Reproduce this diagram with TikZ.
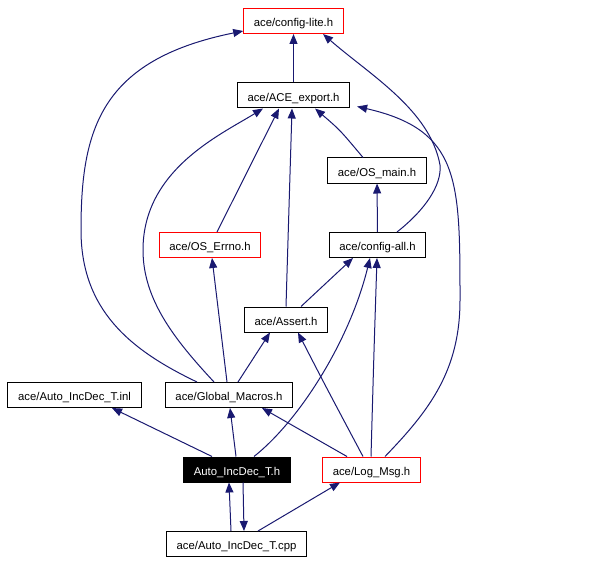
\documentclass[tikz,border=0pt]{standalone}
\usepackage{fontspec}
\setmainfont{Liberation Sans}
\usetikzlibrary{calc,arrows.meta}
\definecolor{edgeblue}{RGB}{25,25,112}
\tikzset{
	file/.style={draw=black, line width=0.75pt, inner xsep=7.6pt, minimum height=18.75pt, text height=8.4pt, text depth=0pt, font=\fontsize{8.5}{10}\selectfont},
	redfile/.style={file, draw=red},
	thisfile/.style={file, fill=black, text=white},
	dep/.style={draw=edgeblue, line width=0.75pt, -{Triangle[length=7.5pt, width=6pt]}}
}

\begin{document}
\begin{tikzpicture}[x=0.75pt, y=-0.75pt]
			%%%%% START %%%%%
			
			\useasboundingbox (0, 0) rectangle (592, 563);
			
			\node[redfile] (lite) at (293.5, 21) {ace/config-lite.h};
			\node[file] (export) at (293.5, 95.5) {ace/ACE\_export.h};
			\node[file] (osmain) at (377, 170.5) {ace/OS\_main.h};
			\node[redfile] (errno) at (210, 245) {ace/OS\_Errno.h};
			\node[file] (cfgall) at (377.5, 245) {ace/config-all.h};
			\node[file] (assert) at (286, 319.5) {ace/Assert.h};
			\node[file] (inl) at (74.5, 395) {ace/Auto\_IncDec\_T.inl};
			\node[file] (gmac) at (229, 395) {ace/Global\_Macros.h};
			\node[thisfile] (autoh) at (237, 469.5) {Auto\_IncDec\_T.h};
			\node[redfile] (logmsg) at (371.5, 469.5) {ace/Log\_Msg.h};
			\node[file] (cpp) at (236.5, 544) {ace/Auto\_IncDec\_T.cpp};
			
			% into config-lite.h
			\draw[dep] (export) -- (lite);
			\draw[dep] ($(gmac.north)+(-32, 0)$) .. controls (130, 350) and (81, 310) .. (81, 230)
				.. controls (81, 130) and (100, 60) .. ($(lite.south west)+(0, -3)$);
			\draw[dep] ($(cfgall.north)+(19.5, 0)$) .. controls (425, 210) and (442, 185) .. (440, 165)
				.. controls (430, 110) and (370, 75) .. ($(lite.south)+(29.5, 0)$);
			
			% into ACE_export.h
			\draw[dep] ($(gmac.north)+(-15, 0)$) .. controls (175, 340) and (143, 300) .. (143, 250)
				.. controls (143, 170) and (220, 135) .. ($(export.south)+(-30.5, 0)$);
			\draw[dep] ($(errno.north)+(7, 0)$) -- ($(export.south)+(-14.5, 0)$);
			\draw[dep] ($(assert.north)+(0, 0)$) .. controls (288, 240) .. ($(export.south)+(-1.5, 0)$);
			\draw[dep] ($(osmain.north)+(-14, 0)$) .. controls (340, 130) .. ($(export.south)+(21.5, 0)$);
			\draw[dep] ($(logmsg.north)+(13.5, 0)$) .. controls (430, 410) and (460, 370) .. (460, 300)
				.. controls (460, 180) and (460, 130) .. ($(export.south east)+(7, -2)$);
			
			% into OS_main.h and config-all.h
			\draw[dep] (cfgall) -- (osmain);
			\draw[dep] ($(assert.north)+(15, 0)$) -- ($(cfgall.south)+(-24.5, 0)$);
			\draw[dep] ($(autoh.north)+(17, 0)$) .. controls (300, 420) and (350, 340) .. ($(cfgall.south)+(-7.5, 0)$);
			\draw[dep] ($(logmsg.north)+(-0.5, 0)$) .. controls (374, 350) .. ($(cfgall.south)+(-0.5, 0)$);
			
			% into Assert.h and OS_Errno.h
			\draw[dep] ($(gmac.north)+(9, 0)$) -- ($(assert.south)+(-16, 0)$);
			\draw[dep] ($(logmsg.north)+(-8.5, 0)$) .. controls (325, 385) .. ($(assert.south)+(12, 0)$);
			\draw[dep] ($(gmac.north)+(-2, 0)$) -- ($(errno.south)+(2, 0)$);
			
			% into the lower files
			\draw[dep] ($(autoh.north)+(-25, 0)$) -- ($(inl.south)+(37.5, 0)$);
			\draw[dep] ($(autoh.north)+(-1, 0)$) -- ($(gmac.south)+(1, 0)$);
			\draw[dep] ($(logmsg.north)+(-24.5, 0)$) -- ($(gmac.south)+(33, 0)$);
			\draw[dep] ($(cpp.north)+(-5.5, 0)$) -- ($(autoh.south)+(-8, 0)$);
			\draw[dep] ($(autoh.south)+(6, 0)$) -- ($(cpp.north)+(7.5, 0)$);
			\draw[dep] ($(cpp.north)+(21.5, 0)$) -- ($(logmsg.south)+(-31.5, 0)$);
			
			%%%%% END %%%%%
		\end{tikzpicture}
\end{document}
